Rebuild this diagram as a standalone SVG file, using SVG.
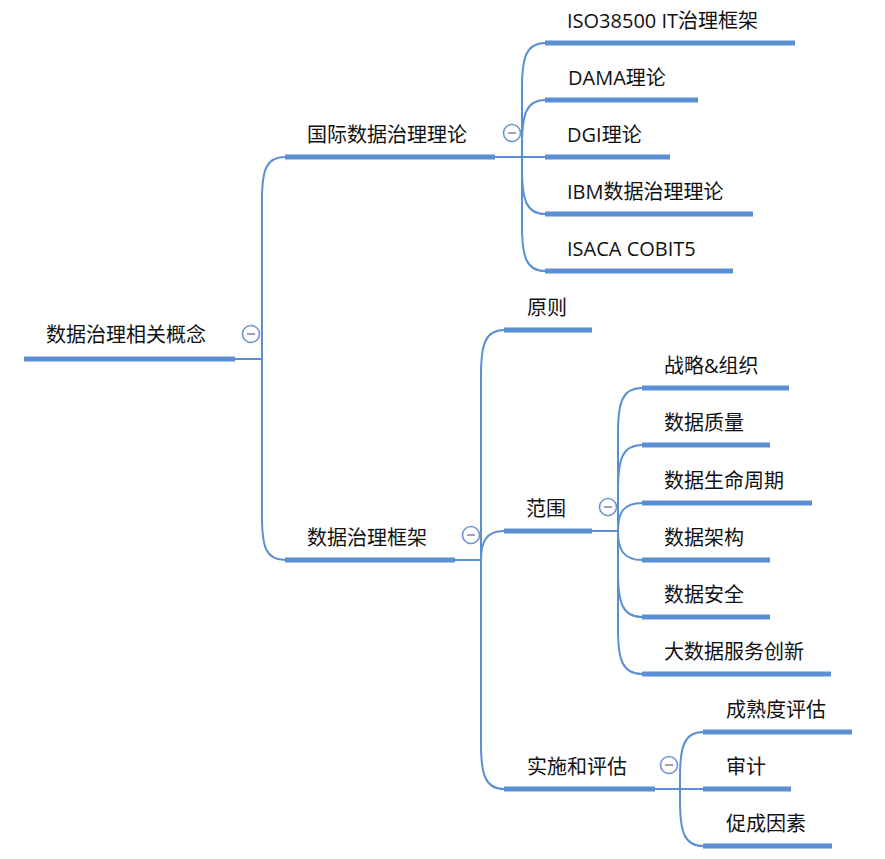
<svg xmlns="http://www.w3.org/2000/svg" width="885" height="859" viewBox="0 0 885 859">
<defs>
<style>
.t{font-family:"Open Sans","Noto Sans CJK SC",sans-serif;font-size:20px;fill:#111}
.u{stroke:#5b8fd4;stroke-width:5;fill:none}
.c{stroke:#5b8fd4;stroke-width:2;fill:none}
.btn circle{fill:#fff;stroke:#7196ce;stroke-width:1.6}
.btn line{stroke:#8a86a8;stroke-width:1.6}
</style>
</defs>
<rect width="885" height="859" fill="#fff"/>
<g id="connectors" class="c">
<path d="M235,359 L262,359"/>
<path d="M262,359 L262,200 C262,170 266,157 285,157"/>
<path d="M262,359 L262,517 C262,547 266,560 285,560"/>
<path d="M495,157 L522,157"/>
<path d="M522,157 L522,88 C522,58 526,43 545,43"/>
<path d="M522,157 L522,145 C522,115 526,100 545,100"/>
<path d="M522,157 L545,157"/>
<path d="M522,157 L522,169 C522,199 526,214 545,214"/>
<path d="M522,157 L522,226 C522,256 526,271 545,271"/>
<path d="M455,560 L481,560"/>
<path d="M481,560 L481,375 C481,345 485,330 504,330"/>
<path d="M481,560 C481,542 486,531 504,531"/>
<path d="M481,560 L481,744 C481,774 485,789 504,789"/>
<path d="M592,531 L618,531"/>
<path d="M618,531 L618,433 C618,403 622,388 642,388"/>
<path d="M618,531 L618,490 C618,460 622,445 642,445"/>
<path d="M618,531 C618,513 623,503 642,503"/>
<path d="M618,531 C618,549 623,560 642,560"/>
<path d="M618,531 L618,572 C618,602 622,617 642,617"/>
<path d="M618,531 L618,629 C618,659 622,674 642,674"/>
<path d="M655,789 L680,789"/>
<path d="M680,789 L680,777 C680,747 684,732 703,732"/>
<path d="M680,789 L703,789"/>
<path d="M680,789 L680,801 C680,831 684,846 703,846"/>
</g>
<g id="root"><text class="t" x="46" y="342">数据治理相关概念</text><path class="u" d="M24,359 H235"/><g class="btn"><circle cx="251" cy="334" r="8.5"/><line x1="247" y1="334" x2="255" y2="334"/></g></g>
<g id="n-intl"><text class="t" x="307" y="142">国际数据治理理论</text><path class="u" d="M285,157 H495"/><g class="btn"><circle cx="512" cy="133" r="8.5"/><line x1="508" y1="133" x2="516" y2="133"/></g></g>
<g id="n-iso"><text class="t" x="567" y="28">ISO38500 IT治理框架</text><path class="u" d="M545,43 H795"/></g>
<g id="n-dama"><text class="t" x="568" y="85">DAMA理论</text><path class="u" d="M545,100 H698"/></g>
<g id="n-dgi"><text class="t" x="567" y="142">DGI理论</text><path class="u" d="M545,157 H670"/></g>
<g id="n-ibm"><text class="t" x="567" y="199">IBM数据治理理论</text><path class="u" d="M545,214 H753"/></g>
<g id="n-isaca"><text class="t" x="567" y="256">ISACA COBIT5</text><path class="u" d="M545,271 H733"/></g>
<g id="n-frame"><text class="t" x="307" y="545">数据治理框架</text><path class="u" d="M285,560 H455"/><g class="btn"><circle cx="471" cy="535" r="8.5"/><line x1="467" y1="535" x2="475" y2="535"/></g></g>
<g id="n-principle"><text class="t" x="527" y="315">原则</text><path class="u" d="M504,330 H592"/></g>
<g id="n-scope"><text class="t" x="526" y="516">范围</text><path class="u" d="M504,531 H592"/><g class="btn"><circle cx="608" cy="507" r="8.5"/><line x1="604" y1="507" x2="612" y2="507"/></g></g>
<g id="n-impl"><text class="t" x="527" y="774">实施和评估</text><path class="u" d="M504,789 H655"/><g class="btn"><circle cx="669" cy="765" r="8.5"/><line x1="665" y1="765" x2="673" y2="765"/></g></g>
<g id="n-strategy"><text class="t" x="664" y="373">战略&amp;组织</text><path class="u" d="M642,388 H789"/></g>
<g id="n-quality"><text class="t" x="664" y="430">数据质量</text><path class="u" d="M642,445 H770"/></g>
<g id="n-lifecycle"><text class="t" x="664" y="488">数据生命周期</text><path class="u" d="M642,503 H812"/></g>
<g id="n-arch"><text class="t" x="664" y="545">数据架构</text><path class="u" d="M642,560 H770"/></g>
<g id="n-security"><text class="t" x="664" y="602">数据安全</text><path class="u" d="M642,617 H770"/></g>
<g id="n-bigdata"><text class="t" x="664" y="659">大数据服务创新</text><path class="u" d="M642,674 H831"/></g>
<g id="n-maturity"><text class="t" x="726" y="717">成熟度评估</text><path class="u" d="M703,732 H852"/></g>
<g id="n-audit"><text class="t" x="726" y="774">审计</text><path class="u" d="M703,789 H791"/></g>
<g id="n-enablers"><text class="t" x="726" y="831">促成因素</text><path class="u" d="M703,846 H832"/></g>
</svg>
